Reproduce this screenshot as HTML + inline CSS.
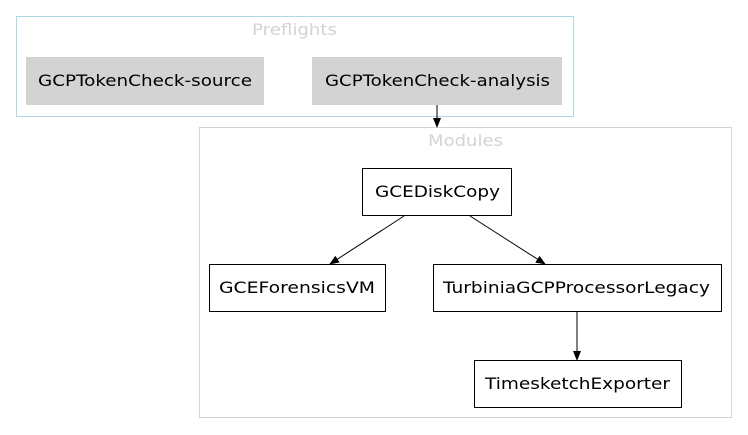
<!DOCTYPE html>
<html><head><style>body{margin:0;background:#fff}svg{display:block}text{font-family:"DejaVu Sans","Liberation Sans",sans-serif;font-size:16px}</style></head>
<body>
<svg width="748" height="435" viewBox="0 0 748 435" xmlns="http://www.w3.org/2000/svg">
<defs><marker id="a" markerWidth="10" markerHeight="8" refX="9" refY="4" orient="auto" markerUnits="userSpaceOnUse"><path d="M0,0 L10,4 L0,8 z" fill="#000"/></marker></defs>
<rect x="16.5" y="16.5" width="557" height="100" fill="none" stroke="#add8e6"/>
<text x="252" y="35" textLength="85" lengthAdjust="spacingAndGlyphs" fill="#d3d3d3">Preflights</text>
<rect x="26" y="57" width="238" height="48" fill="#d3d3d3"/>
<text x="38" y="86" textLength="214" lengthAdjust="spacingAndGlyphs">GCPTokenCheck-source</text>
<rect x="312" y="57" width="250" height="48" fill="#d3d3d3"/>
<text x="325" y="86" textLength="225" lengthAdjust="spacingAndGlyphs">GCPTokenCheck-analysis</text>
<rect x="199.5" y="127.5" width="532" height="290" fill="none" stroke="#d3d3d3"/>
<text x="428" y="146" textLength="75" lengthAdjust="spacingAndGlyphs" fill="#d3d3d3">Modules</text>
<line x1="437" y1="105" x2="437" y2="127" stroke="#000" marker-end="url(#a)"/>
<rect x="362.5" y="168.5" width="149" height="47" fill="#fff" stroke="#000"/>
<text x="375" y="197" textLength="125" lengthAdjust="spacingAndGlyphs">GCEDiskCopy</text>
<rect x="209.5" y="264.5" width="176" height="47" fill="#fff" stroke="#000"/>
<text x="219" y="293" textLength="156" lengthAdjust="spacingAndGlyphs">GCEForensicsVM</text>
<rect x="433.5" y="264.5" width="288" height="47" fill="#fff" stroke="#000"/>
<text x="443" y="293" textLength="267" lengthAdjust="spacingAndGlyphs">TurbiniaGCPProcessorLegacy</text>
<rect x="474.5" y="360.5" width="207" height="47" fill="#fff" stroke="#000"/>
<text x="485" y="389" textLength="185" lengthAdjust="spacingAndGlyphs">TimesketchExporter</text>
<line x1="404" y1="216" x2="330" y2="264" stroke="#000" marker-end="url(#a)"/>
<line x1="470" y1="216" x2="545" y2="264" stroke="#000" marker-end="url(#a)"/>
<line x1="577" y1="312" x2="577" y2="360" stroke="#000" marker-end="url(#a)"/>
</svg>
</body></html>
